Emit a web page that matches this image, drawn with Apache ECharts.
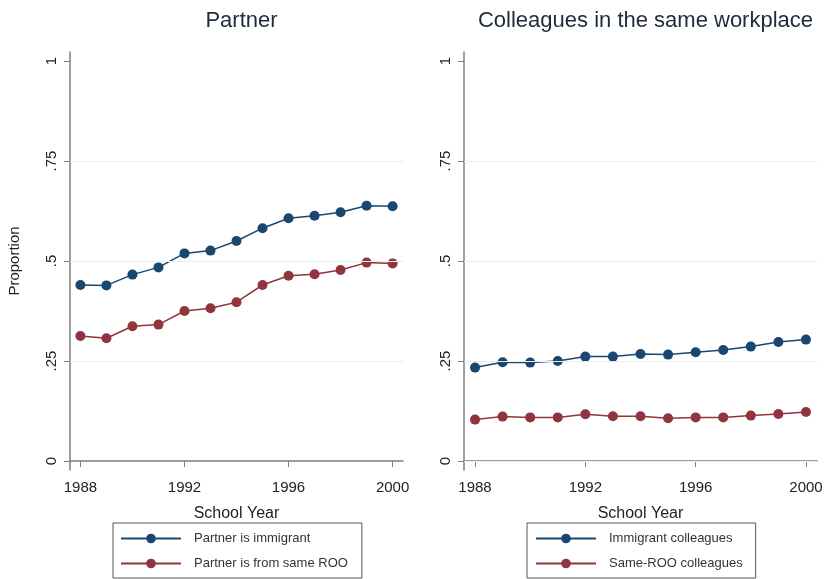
<!DOCTYPE html>
<html>
<head>
<meta charset="utf-8">
<script src="https://cdn.jsdelivr.net/npm/echarts@6/dist/echarts.min.js"></script>
<style>
html,body{margin:0;padding:0;background:#fff;}
#c{width:826px;height:579px;}
</style>
</head>
<body>
<div id="c"></div>
<script>
const years = [1988,1989,1990,1991,1992,1993,1994,1995,1996,1997,1998,1999,2000];
const partnerImmigrant = [0.440,0.439,0.466,0.484,0.519,0.526,0.550,0.582,0.607,0.613,0.622,0.638,0.637];
const partnerSameROO  = [0.3125,0.307,0.337,0.341,0.375,0.382,0.397,0.440,0.463,0.467,0.4775,0.496,0.494];
const colleaguesImmigrant = [0.2335,0.247,0.246,0.250,0.261,0.261,0.2675,0.266,0.272,0.2775,0.286,0.2975,0.3035];
const colleaguesSameROO  = [0.1035,0.111,0.109,0.109,0.1167,0.112,0.112,0.107,0.109,0.109,0.1135,0.1175,0.1225];
const xTicks = [1988,1992,1996,2000];
const yTicks = [0,0.25,0.5,0.75,1];
const yTickLabels = {0:'0',0.25:'.25',0.5:'.5',0.75:'.75',1:'1'};
const gridLinesLeft = [0.25,0.5,0.75];
const gridLinesRight = [0,0.25,0.5,0.75];
const titles = ['Partner','Colleagues in the same workplace'];
const legendLeft = ['Partner is immigrant','Partner is from same ROO'];
const legendRight = ['Immigrant colleagues','Same-ROO colleagues'];

const NAVY = '#1a476f', MAROON = '#90353b';
const FONT = 'Liberation Sans, Arial, sans-serif';
const pair = arr => arr.map((v,i)=>[years[i],v]);

function xAxis(idx){
  return {
    type:'value', gridIndex:idx, min:1987.6, max:2000.4,
    name:'School Year', nameLocation:'middle', nameGap:36,
    nameTextStyle:{fontSize:16,color:'#222',fontFamily:FONT},
    axisLine:{show:true,lineStyle:{color:'#7f7f7f',width:1.5}},
    axisTick:{show:true,length:6,customValues:xTicks,lineStyle:{color:'#7f7f7f'}},
    axisLabel:{customValues:xTicks,fontSize:15,color:'#222',margin:10,fontFamily:FONT,
      formatter:v=>String(v)},
    splitLine:{show:false}
  };
}
function yAxis(idx,name){
  return {
    type:'value', gridIndex:idx, min:-0.0225, max:1.0225,
    name:name, nameLocation:'middle', nameGap:48, nameRotate:90,
    nameTextStyle:{fontSize:15,color:'#222',fontFamily:FONT},
    axisLine:{show:true,lineStyle:{color:'#7f7f7f',width:1.5}},
    axisTick:{show:true,length:6,customValues:yTicks,lineStyle:{color:'#7f7f7f'}},
    axisLabel:{customValues:yTicks,rotate:90,fontSize:15,color:'#222',margin:11,fontFamily:FONT,
      formatter:v=>yTickLabels[Math.round(v*100)/100]},
    splitLine:{show:false}
  };
}
function gridSeries(idx,vals){
  return {type:'line',xAxisIndex:idx,yAxisIndex:idx,data:[],z:1,silent:true,
    markLine:{silent:true,symbol:'none',label:{show:false},animation:false,
      lineStyle:{color:'#e6eef0',type:'solid',width:1.2},
      data:vals.map(v=>({yAxis:v}))}};
}
function dataSeries(idx,name,arr,color){
  return {type:'line',name:name,xAxisIndex:idx,yAxisIndex:idx,data:pair(arr),z:3,
    symbol:'circle',symbolSize:10,showSymbol:true,
    itemStyle:{color:color},lineStyle:{color:color,width:1.5},animation:false};
}
function legend(left,names,pad){
  return {orient:'vertical',left:left,top:523,data:names,padding:pad,
    itemWidth:60,itemHeight:12,itemGap:12,
    borderColor:'#555',borderWidth:1,
    textStyle:{fontSize:13,color:'#333',fontFamily:FONT,padding:[0,0,0,8]}};
}

const chart = echarts.init(document.getElementById('c'),null,{renderer:'canvas'});
chart.setOption({
  backgroundColor:'#fff',
  animation:false,
  title:[
    {text:titles[0],left:236.5,top:5,textAlign:'center',textStyle:{fontSize:22,fontWeight:'normal',color:'#1e2b3c',fontFamily:FONT}},
    {text:titles[1],left:640.5,top:5,textAlign:'center',textStyle:{fontSize:22,fontWeight:'normal',color:'#1e2b3c',fontFamily:FONT}}
  ],
  grid:[
    {left:70,top:52,width:333,height:418},
    {left:464,top:52,width:353,height:418}
  ],
  xAxis:[xAxis(0),xAxis(1)],
  yAxis:[yAxis(0,'Proportion'),yAxis(1,'')],
  legend:[legend(113,legendLeft,[9,14,8,7]),legend(527,legendRight,[9,13,8,8])],
  series:[
    gridSeries(0,gridLinesLeft),
    gridSeries(1,gridLinesRight),
    dataSeries(0,legendLeft[0],partnerImmigrant,NAVY),
    dataSeries(0,legendLeft[1],partnerSameROO,MAROON),
    dataSeries(1,legendRight[0],colleaguesImmigrant,NAVY),
    dataSeries(1,legendRight[1],colleaguesSameROO,MAROON)
  ]
});
</script>
</body>
</html>
